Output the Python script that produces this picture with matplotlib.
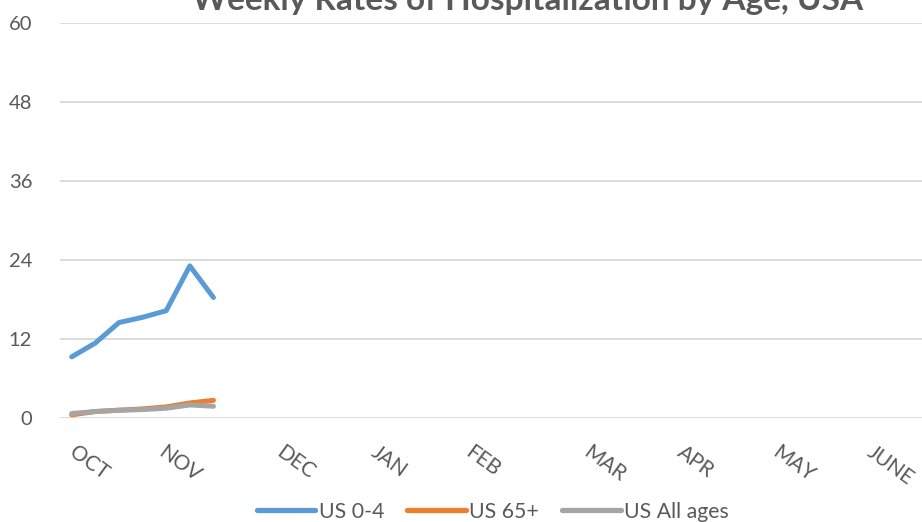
import numpy as np
import matplotlib.pyplot as plt
import matplotlib.transforms as mtransforms

# weekly rates (per 100k), season starts in October
n_weeks = 37
us_0_4 = [9.3, 11.4, 14.5, 15.3, 16.3, 23.1, 18.3]
us_65 = [0.5, 1.0, 1.2, 1.4, 1.7, 2.3, 2.7]
us_all = [0.7, 1.0, 1.2, 1.3, 1.5, 2.0, 1.8]

month_labels = ["OCT", "NOV", "DEC", "JAN", "FEB", "MAR", "APR", "MAY", "JUNE"]
month_weeks = [0, 4, 9, 13, 17, 22, 26, 30, 34]

series = [
    ("US 0-4", us_0_4, "#5B9BD5"),
    ("US 65+", us_65, "#ED7D31"),
    ("US All ages", us_all, "#A5A5A5"),
]

plt.rcParams["font.family"] = ["Lato", "DejaVu Sans"]

fig = plt.figure(figsize=(9.22, 5.22), dpi=100)
ax = fig.add_axes([0.065, 0.199, 0.935, 0.7575])

for name, vals, color in series:
    y = np.full(n_weeks, np.nan)
    y[:len(vals)] = vals
    ax.plot(range(n_weeks), y, color=color, linewidth=3.6,
            solid_capstyle="round", solid_joinstyle="round", label=name)

ax.set_xlim(-0.5, 36.0)
ax.set_ylim(0, 60)
ax.set_yticks(range(0, 61, 12))
ax.grid(axis="y", color="#D9D9D9", linewidth=1.3)
ax.set_axisbelow(True)
for s in ax.spines.values():
    s.set_visible(False)

ax.tick_params(axis="both", length=0, colors="#595959", labelsize=14.5)
ax.tick_params(axis="y", pad=20)
ax.tick_params(axis="x", pad=17, labelsize=15)
ax.set_xticks(month_weeks)
ax.set_xticklabels(month_labels)
for i, lab in enumerate(ax.get_xticklabels()):
    dx = 6 if i == 0 else 0
    shift = mtransforms.ScaledTranslation(dx / 100, 0, fig.dpi_scale_trans)
    lab.set_rotation(-36)
    lab.set_rotation_mode("anchor")
    lab.set_ha("left")
    lab.set_va("top")
    lab.set_transform(lab.get_transform() + shift)

fig.text(0.572, 0.981, "Weekly Rates of Hospitalization by Age, USA",
         ha="center", va="baseline", fontsize=24, fontweight="bold",
         color="#595959")

leg = ax.legend(loc="center", bbox_to_anchor=(0.502, -0.237),
                ncol=3, frameon=False, fontsize=15.3, handlelength=2.75,
                handletextpad=0.15, columnspacing=1.1)
for t in leg.get_texts():
    t.set_color("#595959")
for h in leg.get_lines():
    h.set_linewidth(3.8)

fig.savefig("out.png", dpi=100)
